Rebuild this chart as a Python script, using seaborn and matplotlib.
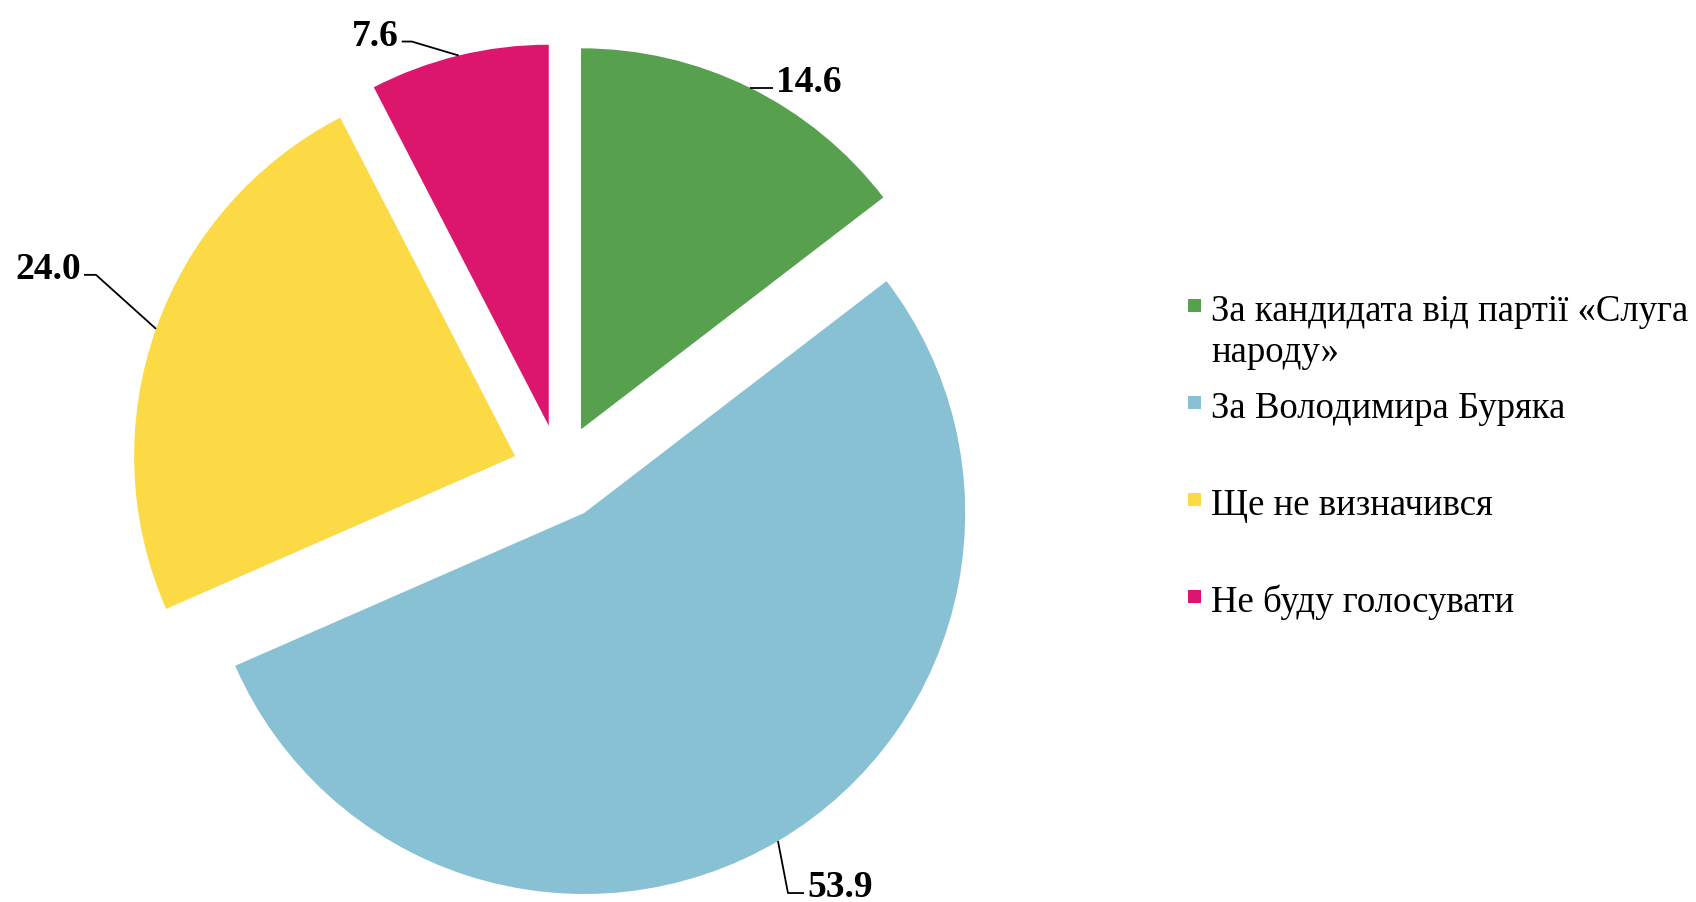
import numpy as np
import seaborn as sns
import matplotlib.pyplot as plt
from matplotlib.patches import Rectangle

# data
categories = ['За кандидата від партії «Слуга\nнароду»', 'За Володимира Буряка',
              'Ще не визначився', 'Не буду голосувати']
values = [14.6, 53.9, 24.0, 7.6]
colors = ['#56A04E', '#88C1D3', '#FCDA46', '#DC156D']

sns.set_theme(style='white')
plt.rcParams['font.family'] = ['Liberation Serif', 'DejaVu Serif']

W, H = 1696, 903
fig = plt.figure(figsize=(W / 100, H / 100), dpi=100)
ax = fig.add_axes([0, 0, 1, 1])

R = 381
wedges, _ = ax.pie(values, colors=colors, startangle=90, counterclock=False,
                   radius=R, center=(560, 430), explode=[47.6] * len(values),
                   wedgeprops={'linewidth': 0})
ax.set_xlim(0, W)
ax.set_ylim(0, H)
ax.set_aspect('auto')
ax.axis('off')

# leader lines: (elbow dx, elbow dy, horizontal run) from anchor on arc
leaders = [(0, 0, 23), (10, -52, 16), (-60, 54, -12), (-47, 14, -10)]
for w, v, (ex, ey, run) in zip(wedges, values, leaders):
    th = np.deg2rad((w.theta1 + w.theta2) / 2)
    cx, cy = w.center
    ax0, ay0 = cx + R * np.cos(th), cy + R * np.sin(th)
    bx, by = ax0 + ex, ay0 + ey
    ex2 = bx + run
    ax.plot([ax0, bx, ex2], [ay0, by, by], color='black', lw=1.3,
            solid_capstyle='butt')
    ha = 'left' if run > 0 else 'right'
    tx = ex2 + (3 if run > 0 else -3)
    ax.text(tx, by - 3, f'{v:.1f}', ha=ha, va='baseline', fontsize=27,
            fontweight='bold', color='black')

# legend
for i, (lab, c) in enumerate(zip(categories, colors)):
    base = 321 + 97 * i
    ax.add_patch(Rectangle((1188, H - base + 8), 13, 13, color=c, lw=0))
    for j, line in enumerate(lab.split('\n')):
        ax.text(1211, H - base - 41 * j, line, ha='left', va='baseline',
                fontsize=26.5, color='black')

fig.savefig('out.png', dpi=100)
